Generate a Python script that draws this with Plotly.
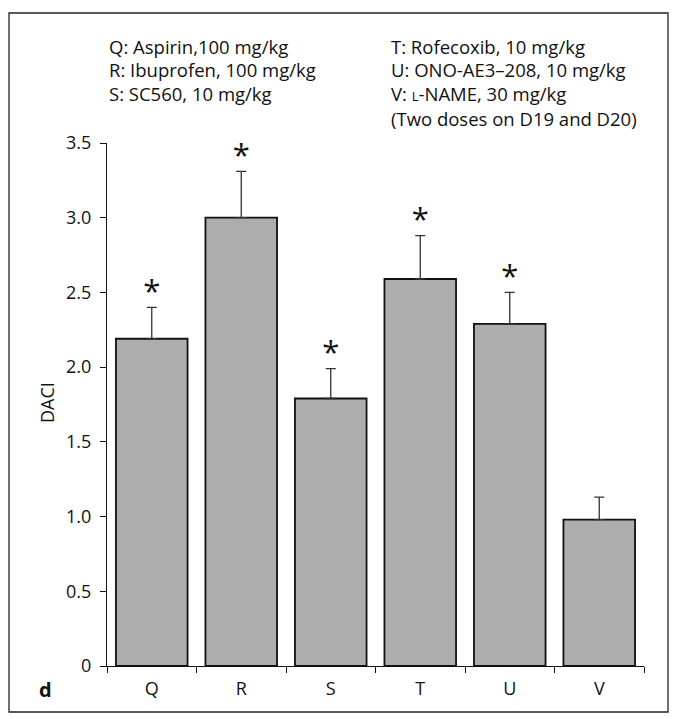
import plotly.graph_objects as go

# ---- data ----
categories = ["Q", "R", "S", "T", "U", "V"]
daci_mean = [2.19, 3.00, 1.79, 2.59, 2.29, 0.98]
daci_sem = [0.21, 0.31, 0.20, 0.29, 0.21, 0.15]
significant = [True, True, True, True, True, False]
y_tick_vals = [0, 0.5, 1.0, 1.5, 2.0, 2.5, 3.0, 3.5]
y_tick_text = ["0", "0.5", "1.0", "1.5", "2.0", "2.5", "3.0", "3.5"]
legend_left = ["Q: Aspirin,100 mg/kg", "R: Ibuprofen, 100 mg/kg", "S: SC560, 10 mg/kg"]
legend_right = ["T: Rofecoxib, 10 mg/kg", "U: ONO-AE3\u2013208, 10 mg/kg",
                "V: <span style='font-size:13px'>L</span>-NAME, 30 mg/kg",
                "(Two doses on D19 and D20)"]

FONT = "Open Sans"
fig = go.Figure()

fig.add_trace(go.Bar(
    x=categories, y=daci_mean, width=0.8,
    marker=dict(color="#adadad", line=dict(color="#111111", width=1.8)),
    error_y=dict(type="data", array=daci_sem, arrayminus=[0] * len(daci_sem),
                 symmetric=False, color="#333333", thickness=1.3, width=5),
    showlegend=False, hoverinfo="skip",
))

star_x = [c for c, s in zip(categories, significant) if s]
star_y = [m + e + 0.09 for m, e, s in zip(daci_mean, daci_sem, significant) if s]
fig.add_trace(go.Scatter(
    x=star_x, y=star_y, mode="text", text=["*"] * len(star_x),
    textposition="middle center",
    textfont=dict(family=FONT, size=31, color="#111111"),
    showlegend=False, hoverinfo="skip", cliponaxis=False,
))

W, H = 680, 719
L, R, T, B = 107, 36, 143, 53
pw, ph = W - L - R, H - T - B

def px_x(x):
    return (x - L) / pw

def px_y(y):
    return (H - B - y) / ph

annotations = []
line_y = [46, 70, 94, 119]
for i, t in enumerate(legend_left):
    annotations.append(dict(text=t, x=px_x(107), y=px_y(line_y[i]), xref="paper", yref="paper",
                            xanchor="left", yanchor="middle", showarrow=False,
                            font=dict(family=FONT, size=18.5, color="#111111")))
for i, t in enumerate(legend_right):
    annotations.append(dict(text=t, x=px_x(389), y=px_y(line_y[i]), xref="paper", yref="paper",
                            xanchor="left", yanchor="middle", showarrow=False,
                            font=dict(family=FONT, size=18.5, color="#111111")))
annotations.append(dict(text="DACI", x=px_x(47), y=px_y(403), xref="paper", yref="paper",
                        textangle=-90, xanchor="center", yanchor="middle", showarrow=False,
                        font=dict(family=FONT, size=18, color="#111111")))
annotations.append(dict(text="<b>d</b>", x=px_x(45), y=px_y(689), xref="paper", yref="paper",
                        xanchor="center", yanchor="middle", showarrow=False,
                        font=dict(family=FONT, size=20, color="#111111")))

fig.update_layout(
    width=W, height=H,
    margin=dict(l=L, r=R, t=T, b=B, pad=0),
    paper_bgcolor="white", plot_bgcolor="white",
    font=dict(family=FONT, size=18, color="#111111"),
    bargap=0.2,
    annotations=annotations,
    shapes=[dict(type="rect", xref="paper", yref="paper",
                 x0=px_x(9), x1=px_x(668), y0=px_y(712), y1=px_y(13),
                 line=dict(color="#222222", width=1.3), fillcolor="rgba(0,0,0,0)", layer="below")],
)
fig.update_xaxes(
    type="category", range=[-0.5, 5.5], tickson="boundaries",
    showline=True, linecolor="#111111", linewidth=1.2,
    ticks="outside", ticklen=6, tickcolor="#111111", tickwidth=1.2,
    ticklabelstandoff=6,
    showgrid=False, zeroline=False, tickfont=dict(family=FONT, size=18),
)
fig.update_yaxes(
    range=[0, 3.5], tickvals=y_tick_vals, ticktext=y_tick_text,
    showline=True, linecolor="#111111", linewidth=1.2,
    ticks="outside", ticklen=6, tickcolor="#111111", tickwidth=1.2,
    ticklabelstandoff=5,
    showgrid=False, zeroline=False, tickfont=dict(family=FONT, size=18),
)

fig.write_html("out.html")
